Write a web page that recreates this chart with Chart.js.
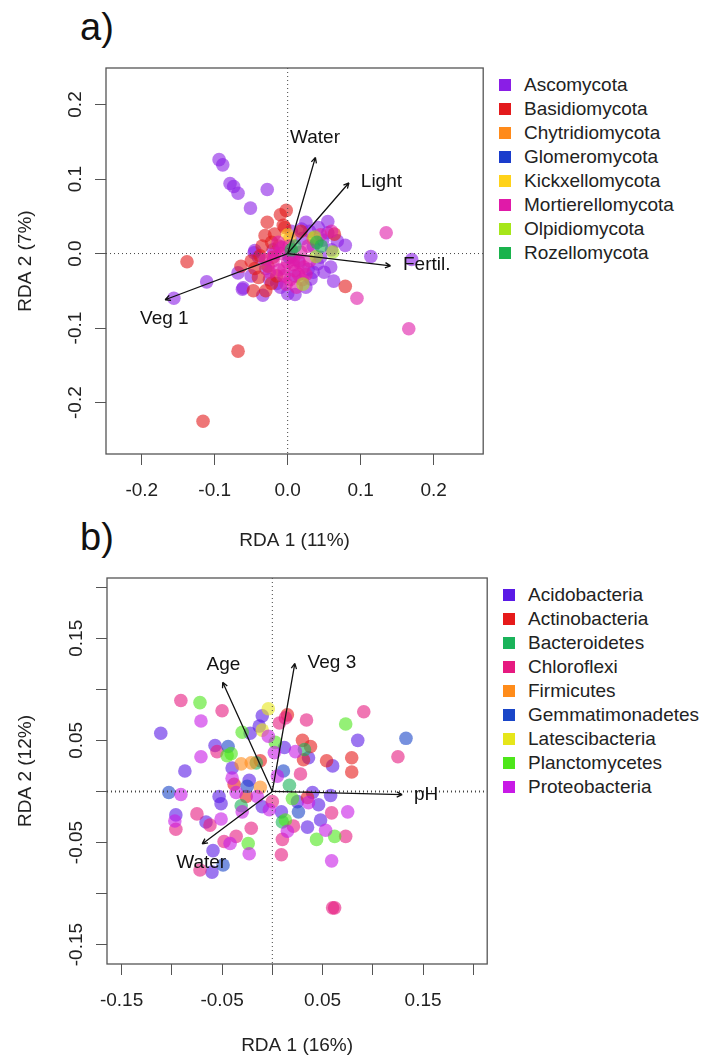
<!DOCTYPE html>
<html>
<head>
<meta charset="utf-8">
<script src="https://cdn.jsdelivr.net/npm/chart.js@4.4.0/dist/chart.umd.min.js"></script>
<style>
  body { margin: 0; background: #fff; font-family: "Liberation Sans", Arial, sans-serif; }
  #page { position: relative; width: 707px; height: 1057px; overflow: hidden; }
  canvas { position: absolute; left: 0; }
  .tag { position: absolute; left: 80px; font-size: 38px; line-height: 38px; color: #111; }
  .legend-row { position: absolute; font-size: 19px; line-height: 22px; color: #222; white-space: nowrap; padding-left: 25px; }
  .legend-row span { position: absolute; left: 0; top: 5px; width: 12px; height: 12px; }
</style>
</head>
<body>
<div id="page">
  <div class="tag" style="top:8px">a)</div>
  <div class="tag" style="top:518px">b)</div>
  <canvas id="rdaA" width="490" height="560" style="top:0"></canvas>
  <canvas id="rdaB" width="494" height="547" style="top:510px"></canvas>
  <div id="legendA"></div>
  <div id="legendB"></div>
</div>
<script>
// ---- Panel a: hongos ----
const fungiNames = ['Ascomycota', 'Basidiomycota', 'Chytridiomycota', 'Glomeromycota',
  'Kickxellomycota', 'Mortierellomycota', 'Olpidiomycota', 'Rozellomycota'];
const fungiColors = ['#8a1ee6', '#e31a1c', '#ff8a1a', '#1a3ccc', '#ffd21a', '#e01aa8', '#a6e61a', '#1ab34d'];

const ascomycota = [[-0.094, 0.126], [-0.089, 0.119], [-0.079, 0.094], [-0.074, 0.090], [-0.068, 0.081],
  [-0.028, 0.086], [-0.051, 0.061], [0.114, -0.004], [0.170, -0.008], [-0.111, -0.038], [-0.156, -0.060],
  [-0.068, -0.026], [-0.062, -0.048], [-0.034, -0.056], [0.059, -0.018], [0.063, -0.037], [0.079, 0.011],
  [0.000, -0.054], [-0.046, 0.001], [0.025, 0.042], [0.055, 0.043], [-0.045, 0.004], [-0.061, -0.046],
  [0.028, -0.021], [0.032, -0.034], [0.041, -0.014], [0.019, 0.033], [0.055, 0.028], [0.068, 0.017],
  [-0.020, 0.005], [0.010, -0.030], [0.045, -0.005], [-0.010, -0.045], [0.035, 0.010], [-0.030, -0.020],
  [0.030, 0.030], [0.042, 0.035], [0.048, 0.018], [0.020, 0.020], [0.015, -0.010], [0.035, -0.025],
  [0.050, -0.025], [-0.040, -0.005], [-0.025, -0.035], [-0.015, -0.040], [0.025, -0.045], [0.010, -0.055],
  [-0.050, -0.030], [0.060, 0.005], [0.005, 0.030]];
const basidiomycota = [[-0.138, -0.011], [-0.064, -0.017], [-0.068, -0.131], [-0.116, -0.225], [0.079, -0.044],
  [-0.002, 0.058], [-0.010, 0.052], [-0.028, 0.042], [-0.004, 0.035], [-0.047, -0.050], [-0.030, -0.050],
  [0.064, 0.026], [-0.018, 0.026], [-0.031, 0.024], [-0.038, -0.003], [-0.027, -0.017], [-0.040, -0.032],
  [-0.006, 0.038], [-0.015, -0.030], [-0.050, -0.010], [-0.022, 0.015], [-0.012, 0.010], [-0.035, 0.010],
  [-0.020, -0.005], [-0.045, -0.020], [-0.022, -0.040], [0.018, 0.030]];
const chytridiomycota = [[0.003, 0.020], [0.035, 0.020]];
const glomeromycota = [[0.002, -0.005]];
const kickxellomycota = [[0.000, 0.025]];
const mortierellomycota = [[0.135, 0.028], [0.095, -0.060], [0.166, -0.101], [-0.013, 0.015], [0.028, 0.010],
  [0.000, -0.012], [0.010, -0.023], [-0.002, -0.041], [-0.020, -0.010], [0.016, -0.012], [-0.005, -0.030],
  [0.005, -0.005], [0.020, -0.035], [-0.010, 0.000], [0.030, -0.010], [-0.025, -0.025], [0.012, -0.045],
  [0.002, 0.010], [0.045, 0.025], [0.060, 0.030], [-0.005, -0.020], [0.008, -0.015], [0.015, -0.028],
  [-0.012, -0.022], [0.022, -0.018], [0.003, -0.035], [-0.018, 0.000], [0.018, 0.002], [-0.008, 0.008],
  [0.025, -0.028], [-0.030, -0.008], [0.008, -0.008]];
const olpidiomycota = [[0.062, 0.002], [0.039, -0.004], [0.021, -0.041], [0.037, 0.022]];
const rozellomycota = [[0.010, 0.010], [0.046, 0.010], [0.005, 0.005], [0.040, 0.015]];
const fungiPoints = [ascomycota, basidiomycota, chytridiomycota, glomeromycota,
  kickxellomycota, mortierellomycota, olpidiomycota, rozellomycota];

const xTicksA = [-0.2, -0.1, 0, 0.1, 0.2];
const xLabelsA = ['-0.2', '-0.1', '0.0', '0.1', '0.2'];
const yTicksA = [-0.2, -0.1, 0, 0.1, 0.2];
const yLabelsA = ['-0.2', '-0.1', '0.0', '0.1', '0.2'];

const arrowNamesA = ['Water', 'Light', 'Fertil.', 'Veg 1'];
const arrowTipXA = [0.038, 0.084, 0.141, -0.168];
const arrowTipYA = [0.129, 0.095, -0.0165, -0.062];
const arrowLabelXA = [0.0375, 0.1285, 0.1906, -0.169];
const arrowLabelYA = [0.156, 0.0966, -0.0152, -0.088];

// ---- Panel b: bacterias ----
const bactNames = ['Acidobacteria', 'Actinobacteria', 'Bacteroidetes', 'Chloroflexi', 'Firmicutes',
  'Gemmatimonadetes', 'Latescibacteria', 'Planctomycetes', 'Proteobacteria'];
const bactColors = ['#5a1ae6', '#e61a1a', '#1ab35a', '#e61a80', '#ff8c1a', '#1a46c8', '#e6e61a', '#4de61a', '#c81ae6'];

const acidobacteria = [[-0.111, 0.057], [-0.010, 0.074], [0.085, 0.050], [0.060, 0.025], [-0.087, 0.020],
  [-0.057, 0.045], [-0.013, 0.064], [-0.022, 0.057], [0.012, 0.043], [0.036, 0.033], [-0.040, 0.023],
  [-0.023, 0.011], [-0.053, -0.005], [-0.051, -0.012], [-0.010, -0.015], [0.025, -0.010], [0.040, -0.001],
  [0.058, -0.004], [0.046, -0.013], [0.035, -0.035], [-0.096, -0.023], [-0.066, -0.030], [-0.059, -0.058],
  [-0.060, -0.079], [0.009, -0.020], [0.048, -0.028]];
const actinobacteria = [[0.079, 0.033], [0.079, 0.019], [0.054, 0.030], [0.030, 0.050], [0.038, 0.044],
  [0.031, 0.031], [-0.012, 0.030], [-0.038, 0.007], [-0.026, -0.005], [0.035, -0.006], [0.015, 0.075]];
const bacteroidetes = [[0.032, 0.041], [-0.031, -0.014], [0.017, 0.006], [-0.016, 0.028], [0.010, -0.030]];
const chloroflexi = [[-0.091, 0.089], [-0.050, 0.079], [0.013, 0.072], [0.034, 0.070], [0.007, 0.067],
  [0.091, 0.078], [0.125, 0.034], [-0.055, 0.039], [0.028, 0.017], [-0.096, -0.037], [-0.075, -0.022],
  [-0.062, -0.033], [-0.021, -0.036], [0.021, -0.034], [0.059, -0.021], [0.073, -0.044], [0.010, -0.047],
  [0.009, -0.062], [0.060, -0.114], [0.062, -0.114], [-0.048, -0.049], [-0.036, -0.044], [-0.072, -0.077],
  [0.000, -0.010]];
const firmicutes = [[-0.031, 0.027], [-0.021, 0.028], [-0.012, 0.004]];
const gemmatimonadetes = [[0.133, 0.052], [-0.044, 0.044], [0.011, 0.020], [-0.103, -0.001], [0.026, -0.020],
  [-0.049, -0.072], [-0.025, 0.005]];
const latescibacteria = [[-0.004, 0.081], [-0.010, 0.060]];
const planctomycetes = [[-0.072, 0.087], [0.073, 0.066], [-0.041, 0.037], [-0.030, 0.058], [0.003, 0.048],
  [0.020, -0.007], [0.013, -0.028], [0.044, -0.047], [0.062, -0.044], [-0.024, -0.051], [-0.045, 0.035]];
const proteobacteria = [[-0.071, 0.069], [-0.071, 0.034], [-0.004, 0.054], [0.023, 0.039], [0.002, 0.038],
  [-0.040, 0.013], [-0.091, -0.003], [-0.036, -0.001], [-0.003, -0.018], [0.036, -0.011], [0.075, -0.020],
  [-0.097, -0.029], [-0.051, -0.027], [0.053, -0.038], [0.015, -0.039], [-0.042, -0.051], [-0.023, -0.061],
  [0.059, -0.068], [-0.015, -0.005], [0.005, 0.015], [-0.030, -0.020]];
const bactPoints = [acidobacteria, actinobacteria, bacteroidetes, chloroflexi, firmicutes,
  gemmatimonadetes, latescibacteria, planctomycetes, proteobacteria];

const xTicksB = [-0.15, -0.1, -0.05, 0, 0.05, 0.1, 0.15, 0.2];
const xLabelsB = ['-0.15', '', '-0.05', '', '0.05', '', '0.15', ''];
const yTicksB = [-0.15, -0.1, -0.05, 0, 0.05, 0.1, 0.15, 0.2];
const yLabelsB = ['-0.15', '', '-0.05', '', '0.05', '', '0.15', ''];

const arrowNamesB = ['Age', 'Veg 3', 'pH', 'Water'];
const arrowTipXB = [-0.0494, 0.0224, 0.1292, -0.0698];
const arrowTipYB = [0.107, 0.1254, -0.0032, -0.0514];
const arrowLabelXB = [-0.0487, 0.0593, 0.153, -0.0708];
const arrowLabelYB = [0.1245, 0.126, -0.0032, -0.0694];

const FONT = '"Liberation Sans", Arial, sans-serif';
Chart.defaults.font.family = FONT;
Chart.defaults.font.size = 19;
Chart.defaults.color = '#222';

function hexToRgba(hex, a) {
  const n = parseInt(hex.slice(1), 16);
  return `rgba(${n >> 16}, ${(n >> 8) & 255}, ${n & 255}, ${a})`;
}

// Lineas en cero, flechas, caja y etiquetas del eje y giradas (como en R)
function overlayPlugin(arrows, yTicks, yLabels, zeroWidth) {
  return {
    id: 'rdaOverlay',
    afterDatasetsDraw(chart) {
      const { ctx, chartArea: a, scales: { x, y } } = chart;
      const x0 = x.getPixelForValue(0), y0 = y.getPixelForValue(0);
      ctx.save();
      ctx.strokeStyle = '#444';
      ctx.setLineDash([1, 3]);
      ctx.lineWidth = 1;
      ctx.beginPath(); ctx.moveTo(x0, a.top); ctx.lineTo(x0, a.bottom); ctx.stroke();
      ctx.lineWidth = zeroWidth;
      ctx.beginPath(); ctx.moveTo(a.left, y0); ctx.lineTo(a.right, y0); ctx.stroke();
      ctx.setLineDash([]);

      ctx.strokeStyle = '#111';
      ctx.fillStyle = '#111';
      ctx.lineWidth = 1.3;
      ctx.font = '19px ' + FONT;
      ctx.textAlign = 'center';
      ctx.textBaseline = 'middle';
      arrows.names.forEach((name, i) => {
        const tx = x.getPixelForValue(arrows.tipX[i]);
        const ty = y.getPixelForValue(arrows.tipY[i]);
        const ang = Math.atan2(ty - y0, tx - x0);
        ctx.beginPath();
        ctx.moveTo(x0, y0); ctx.lineTo(tx, ty);
        [-1, 1].forEach(s => {
          ctx.moveTo(tx, ty);
          ctx.lineTo(tx - 6 * Math.cos(ang + s * 0.45), ty - 6 * Math.sin(ang + s * 0.45));
        });
        ctx.stroke();
        ctx.fillText(name, x.getPixelForValue(arrows.labelX[i]), y.getPixelForValue(arrows.labelY[i]));
      });
      ctx.restore();
    },
    afterDraw(chart) {
      const { ctx, chartArea: a, scales: { y } } = chart;
      ctx.save();
      ctx.strokeStyle = '#555';
      ctx.lineWidth = 1.3;
      ctx.strokeRect(a.left, a.top, a.right - a.left, a.bottom - a.top);
      ctx.fillStyle = '#222';
      ctx.font = '19px ' + FONT;
      ctx.textAlign = 'center';
      ctx.textBaseline = 'alphabetic';
      yTicks.forEach((v, i) => {
        ctx.save();
        ctx.translate(a.left - 25, y.getPixelForValue(v));
        ctx.rotate(-Math.PI / 2);
        ctx.fillText(yLabels[i], 0, 0);
        ctx.restore();
      });
      ctx.restore();
    }
  };
}

function rdaChart(id, names, colors, points, cfg) {
  return new Chart(document.getElementById(id), {
    type: 'scatter',
    data: {
      // el primer grupo queda debajo (order alto se pinta primero)
      datasets: names.map((n, i) => ({
        label: n,
        order: names.length - i,
        data: points[i].map(([px, py]) => ({ x: px, y: py })),
        backgroundColor: hexToRgba(colors[i], 0.6),
        borderWidth: 0,
        pointRadius: 6.8,
        pointHoverRadius: 6.8
      }))
    },
    options: {
      responsive: false,
      animation: false,
      devicePixelRatio: 1,
      layout: { padding: { top: 68, right: cfg.right, left: 0, bottom: 0 } },
      plugins: { legend: { display: false }, tooltip: { enabled: false } },
      scales: {
        x: {
          type: 'linear', min: cfg.xMin, max: cfg.xMax,
          afterBuildTicks: s => { s.ticks = cfg.xTicks.map(v => ({ value: v })); },
          afterFit: s => { s.height = cfg.xHeight; },
          grid: { drawOnChartArea: false, drawTicks: true, tickLength: 11, color: '#555' },
          border: { display: false },
          ticks: { callback: (v, i) => cfg.xLabels[i], padding: 14, autoSkip: false, maxRotation: 0, color: '#222' },
          title: { display: true, text: cfg.xTitle, color: '#222', padding: { top: 0, bottom: cfg.xTitlePad } }
        },
        y: {
          type: 'linear', min: cfg.yMin, max: cfg.yMax,
          afterBuildTicks: s => { s.ticks = cfg.yTicks.map(v => ({ value: v })); },
          afterFit: s => { s.width = cfg.yWidth; },
          grid: { drawOnChartArea: false, drawTicks: true, tickLength: 11, color: '#555' },
          border: { display: false },
          ticks: { display: false },
          title: { display: true, text: cfg.yTitle, color: '#222', padding: { top: 14, bottom: 0 } }
        }
      }
    },
    plugins: [overlayPlugin(cfg.arrows, cfg.yTicks, cfg.yLabels, cfg.zeroWidth)]
  });
}

rdaChart('rdaA', fungiNames, fungiColors, fungiPoints, {
  xMin: -0.249, xMax: 0.268, yMin: -0.269, yMax: 0.249, right: 3,
  xTicks: xTicksA, xLabels: xLabelsA, yTicks: yTicksA, yLabels: yLabelsA,
  xHeight: 106, yWidth: 106, xTitlePad: 8, zeroWidth: 1,
  xTitle: 'RDA 1 (11%)', yTitle: 'RDA 2 (7%)',
  arrows: { names: arrowNamesA, tipX: arrowTipXA, tipY: arrowTipYA, labelX: arrowLabelXA, labelY: arrowLabelYA }
});

rdaChart('rdaB', bactNames, bactColors, bactPoints, {
  xMin: -0.1645, xMax: 0.2138, yMin: -0.169, yMax: 0.209, right: 4,
  xTicks: xTicksB, xLabels: xLabelsB, yTicks: yTicksB, yLabels: yLabelsB,
  xHeight: 93, yWidth: 107, xTitlePad: 0, zeroWidth: 2,
  xTitle: 'RDA 1 (16%)', yTitle: 'RDA 2 (12%)',
  arrows: { names: arrowNamesB, tipX: arrowTipXB, tipY: arrowTipYB, labelX: arrowLabelXB, labelY: arrowLabelYB }
});

// Leyendas en HTML
function buildLegend(boxId, names, colors, left, firstCenter) {
  const box = document.getElementById(boxId);
  names.forEach((n, i) => {
    const row = document.createElement('div');
    row.className = 'legend-row';
    row.style.left = left + 'px';
    row.style.top = (firstCenter + i * 24 - 11) + 'px';
    row.innerHTML = `<span style="background:${colors[i]}"></span>${n}`;
    box.appendChild(row);
  });
}
buildLegend('legendA', fungiNames, fungiColors, 499, 85);
buildLegend('legendB', bactNames, bactColors, 503, 595);
</script>
</body>
</html>
